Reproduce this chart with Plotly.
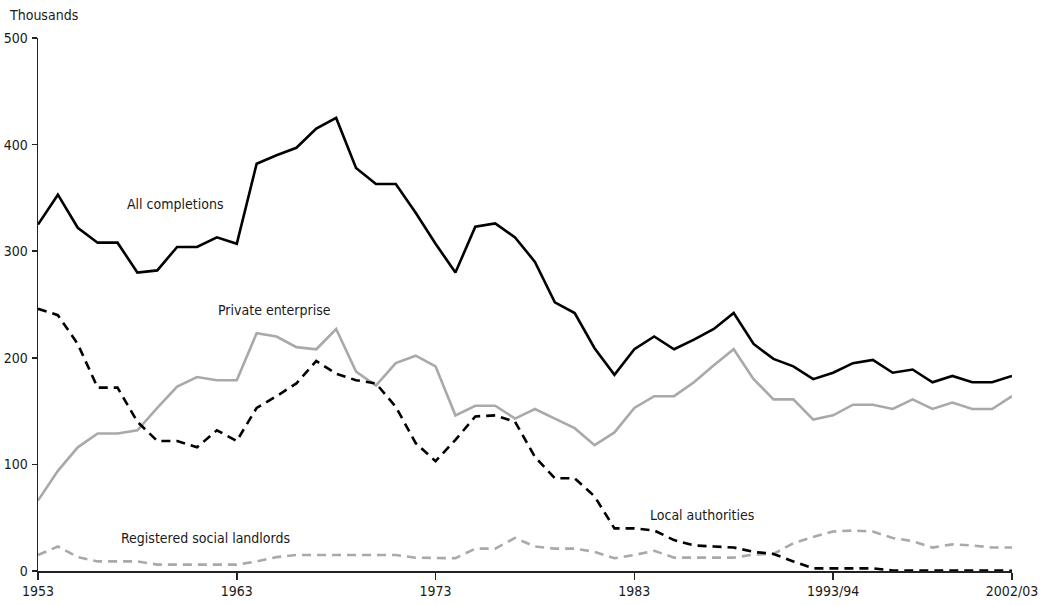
import plotly.graph_objects as go

years = list(range(1953, 2003))

all_completions = [325, 353, 322, 308, 308, 280, 282, 304, 304, 313,
                   307, 382, 390, 397, 415, 425, 378, 363, 363, 336,
                   307, 280, 323, 326, 313, 290, 252, 242, 209, 184,
                   208, 220, 208, 217, 227, 242, 213, 199, 192, 180,
                   186, 195, 198, 186, 189, 177, 183, 177, 177, 183]

private_enterprise = [66, 94, 116, 129, 129, 132, 153, 173, 182, 179,
                      179, 223, 220, 210, 208, 227, 187, 174, 195, 202,
                      192, 146, 155, 155, 143, 152, 143, 134, 118, 130,
                      153, 164, 164, 177, 193, 208, 180, 161, 161, 142,
                      146, 156, 156, 152, 161, 152, 158, 152, 152, 164]

local_authorities = [246, 240, 213, 172, 172, 140, 122, 122, 116, 132,
                     122, 153, 164, 176, 197, 185, 179, 176, 154, 120,
                     103, 123, 145, 146, 140, 107, 87, 87, 70, 40,
                     40, 38, 29, 24, 23, 22, 18, 16, 9, 2.5,
                     2.5, 2.5, 2.5, 0.5, 0.4, 0.4, 0.3, 0.3, 0.3, 0.3]

social_landlords = [15, 23, 13, 9, 9, 9, 6, 6, 6, 6,
                    6, 9, 13, 15, 15, 15, 15, 15, 15, 12.5,
                    12.5, 12, 21, 21, 31, 23, 21, 21, 18, 12,
                    15, 19, 12.5, 12.5, 12.5, 12.5, 15.5, 16, 26, 32,
                    37, 38, 37, 31, 28, 22, 25, 24, 22, 22]

tick_vals = [1953, 1963, 1973, 1983, 1993, 2002]
tick_text = ["1953", "1963", "1973", "1983", "1993/94", "2002/03"]

labels = ["All completions", "Private enterprise", "Local authorities",
          "Registered social landlords"]
label_x = [1959.9, 1964.9, 1986.4, 1961.45]
label_y = [344, 245, 53, 31]

FONT = "Liberation Sans Narrow, DejaVu Sans Condensed, Roboto Condensed, Roboto, sans-serif"
BLACK = "#000000"
GREY = "#a9a9a9"
TEXT = "#1a1a1a"

fig = go.Figure()
fig.add_trace(go.Scatter(x=years, y=social_landlords, mode="lines",
                         line=dict(color=GREY, width=2.6, dash="9px,6px"),
                         name=labels[3]))
fig.add_trace(go.Scatter(x=years, y=private_enterprise, mode="lines",
                         line=dict(color=GREY, width=2.6),
                         name=labels[1]))
fig.add_trace(go.Scatter(x=years, y=local_authorities, mode="lines",
                         line=dict(color=BLACK, width=2.6, dash="9px,6px"),
                         name=labels[2]))
fig.add_trace(go.Scatter(x=years, y=all_completions, mode="lines",
                         line=dict(color=BLACK, width=2.6),
                         name=labels[0]))

for t, x, y in zip(labels, label_x, label_y):
    fig.add_annotation(x=x, y=y, xref="x", yref="y", text=t, showarrow=False,
                       font=dict(family=FONT, size=14, color=TEXT))

fig.add_annotation(x=-0.032, y=1.043, xref="paper", yref="paper",
                   text="Thousands", showarrow=False, xanchor="left",
                   yanchor="middle",
                   font=dict(family=FONT, size=14, color=TEXT))

fig.update_layout(
    width=1048, height=605,
    margin=dict(l=38, r=36, t=38, b=34),
    paper_bgcolor="white", plot_bgcolor="white",
    showlegend=False,
    font=dict(family=FONT, size=14, color=TEXT),
    xaxis=dict(range=[1953, 2002], tickvals=tick_vals, ticktext=tick_text,
               showgrid=False, zeroline=False, showline=True, automargin=False,
               linecolor="#222222", linewidth=1.5, ticks="outside",
               ticklen=7, tickwidth=1.5, tickcolor="#222222",
               tickfont=dict(family=FONT, size=14, color=TEXT)),
    yaxis=dict(range=[0, 500], tickvals=[0, 100, 200, 300, 400, 500],
               showgrid=False, zeroline=False, showline=True, automargin=False,
               linecolor="#222222", linewidth=1.5, ticks="outside",
               ticklen=5, tickwidth=1.5, tickcolor="#222222", ticklabelstandoff=1,
               tickfont=dict(family=FONT, size=14, color=TEXT)),
)

fig.write_html("out.html",
               config={"displayModeBar": False, "staticPlot": True},
               post_script="document.body.style.margin='0';document.body.style.overflow='hidden';")
